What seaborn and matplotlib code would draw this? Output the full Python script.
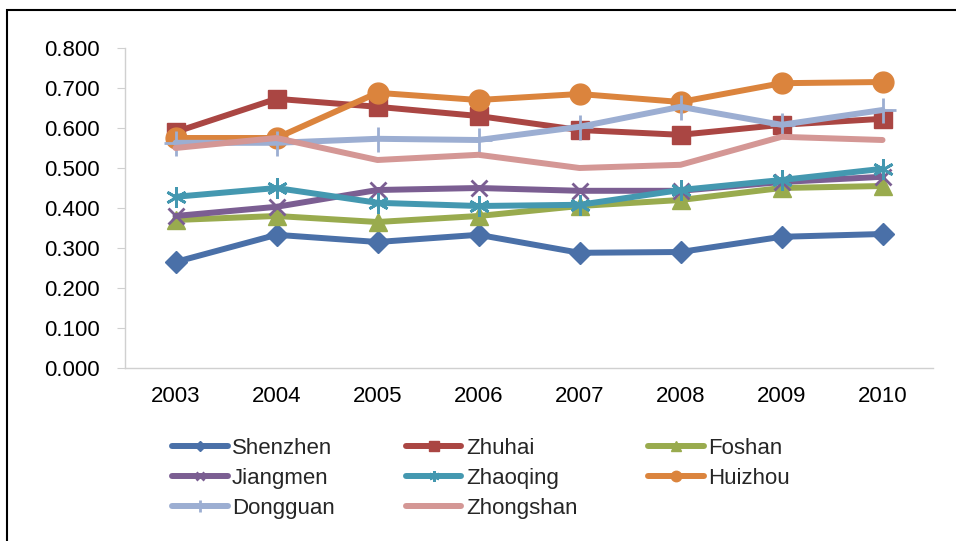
import matplotlib
matplotlib.use("Agg")
import matplotlib.pyplot as plt
import seaborn as sns
import pandas as pd
from matplotlib.ticker import FormatStrFormatter
from matplotlib.patches import Rectangle

years = [2003, 2004, 2005, 2006, 2007, 2008, 2009, 2010]
cities = ["Shenzhen", "Zhuhai", "Foshan", "Jiangmen", "Zhaoqing", "Huizhou", "Dongguan", "Zhongshan"]
shenzhen = [0.265, 0.333, 0.315, 0.333, 0.288, 0.290, 0.328, 0.335]
zhuhai = [0.590, 0.673, 0.653, 0.630, 0.595, 0.583, 0.608, 0.623]
foshan = [0.370, 0.380, 0.365, 0.380, 0.405, 0.420, 0.450, 0.455]
jiangmen = [0.380, 0.403, 0.445, 0.450, 0.443, 0.443, 0.465, 0.478]
zhaoqing = [0.428, 0.450, 0.413, 0.405, 0.408, 0.445, 0.470, 0.498]
huizhou = [0.575, 0.575, 0.688, 0.670, 0.685, 0.665, 0.712, 0.715]
dongguan = [0.563, 0.563, 0.573, 0.570, 0.603, 0.653, 0.608, 0.645]
zhongshan = [0.550, 0.575, 0.520, 0.533, 0.500, 0.508, 0.578, 0.570]
series = [shenzhen, zhuhai, foshan, jiangmen, zhaoqing, huizhou, dongguan, zhongshan]

colors = ["#4A70A8", "#AA4643", "#99AB4E", "#7B5E92", "#4498B0", "#DB843D", "#9CAED2", "#D49795"]
markers = ["D", "s", "^", "x", (6, 2, 0), "o", "+", None]
msizes = [11, 13, 13, 12, 15, 15, 18, 0]

sns.set_style("white")
plt.rcParams["font.family"] = ["Liberation Sans", "DejaVu Sans"]

fig = plt.figure(figsize=(9.56, 5.41), dpi=100)
ax = fig.add_axes([125/956, 1-368/541, (933-125)/956, (368-48)/541])

for name, vals, c, m, ms in zip(cities, series, colors, markers, msizes):
    df = pd.DataFrame({"year": years, "value": vals})
    kw = dict(marker=m, markersize=ms, markeredgecolor=c, markerfacecolor=c,
              markeredgewidth=2 if m in ("x", "+") or isinstance(m, tuple) else 1) if m is not None else {}
    sns.lineplot(data=df, x="year", y="value", ax=ax, color=c, linewidth=4.3, label=name, **kw)

ax.set_xlim(2002.5, 2010.5)
ax.set_ylim(0, 0.8)
ax.set_xticks(years)
ax.set_xticklabels([str(y) for y in years])
ax.set_yticks([0, 0.1, 0.2, 0.3, 0.4, 0.5, 0.6, 0.7, 0.8])
ax.yaxis.set_major_formatter(FormatStrFormatter("%.3f"))
ax.set_xlabel("")
ax.set_ylabel("")
for s in ["top", "right"]:
    ax.spines[s].set_visible(False)
for s in ["left", "bottom"]:
    ax.spines[s].set_color("#D0D0D0")
    ax.spines[s].set_linewidth(1)
ax.tick_params(axis="y", which="both", left=True, length=6, color="#D0D0D0", labelsize=16, pad=12, labelcolor="black")
ax.tick_params(axis="x", bottom=False, length=0, labelsize=16, pad=13, labelcolor="black")

h, l = ax.get_legend_handles_labels()
order = [0, 3, 6, 1, 4, 7, 2, 5]
leg = ax.legend([h[i] for i in order], [l[i] for i in order], ncol=3,
                loc="upper left", bbox_to_anchor=(152/956, 1-418/541), bbox_transform=fig.transFigure,
                frameon=False, fontsize=16, handlelength=2.5, handletextpad=0.2,
                columnspacing=3.2, labelspacing=0.4, markerscale=0.5)

fig.patches.append(Rectangle((7/956, -0.1), 1.2, 1 - 10/541 + 0.1, transform=fig.transFigure,
                             fill=False, edgecolor="black", linewidth=1.5))

fig.savefig("out.png", dpi=100)
